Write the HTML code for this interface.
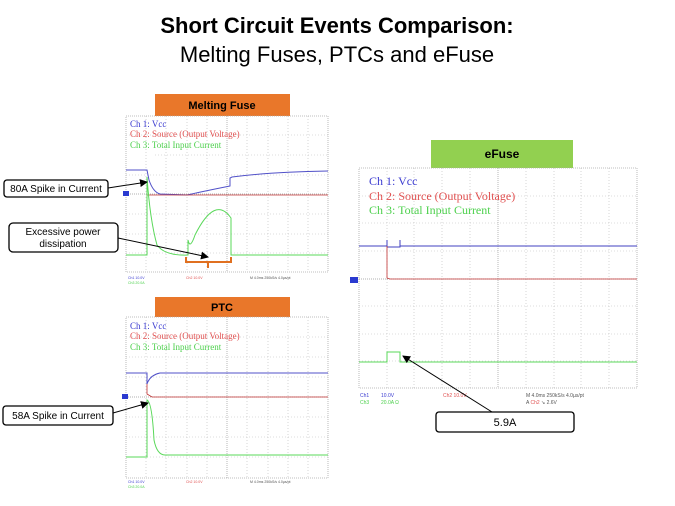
<!DOCTYPE html>
<html><head><meta charset="utf-8"><style>
html,body{margin:0;padding:0;background:#fff;width:675px;height:506px;overflow:hidden}
svg{display:block;font-family:"Liberation Sans",sans-serif}
</style></head><body>
<svg width="675" height="506" viewBox="0 0 675 506" xmlns="http://www.w3.org/2000/svg">
<defs>
<marker id="ah" markerWidth="8" markerHeight="8" refX="7" refY="4" orient="auto" markerUnits="userSpaceOnUse"><path d="M0,0 L8,4 L0,8 z" fill="#000"/></marker>
</defs>
<text x="337" y="33" text-anchor="middle" font-size="22" font-weight="bold">Short Circuit Events Comparison:</text>
<text x="337" y="62" text-anchor="middle" font-size="22">Melting Fuses, PTCs and eFuse</text>

<!-- Scope 1 -->
<g>
<rect x="155" y="94" width="135" height="22" fill="#e9772a"/>
<text x="222" y="109" text-anchor="middle" font-size="11" font-weight="bold">Melting Fuse</text>
<g stroke="#bbb" stroke-width="0.6" stroke-dasharray="1,2" fill="none">
<path d="M146 116V272M166 116V272M187 116V272M207 116V272M247 116V272M268 116V272M288 116V272M308 116V272"/>
<path d="M126 135H328M155 155H328M126 175H328M126 214H328M126 234H328M126 253H328"/>
</g>
<rect x="126" y="116" width="202" height="156" fill="none" stroke="#aaa" stroke-width="0.8" stroke-dasharray="1,1"/>
<path d="M227 116V272M126 194H328" stroke="#999" stroke-width="0.7" stroke-dasharray="1,1"/>
<text x="130" y="127" font-family="Liberation Serif" font-size="9" fill="#3a3ad0">Ch 1:  Vcc</text>
<text x="130" y="137" font-family="Liberation Serif" font-size="9" fill="#e05050">Ch 2:  Source (Output Voltage)</text>
<text x="130" y="148" font-family="Liberation Serif" font-size="9" fill="#4cd04c">Ch 3:  Total Input Current</text>
<path d="M126 170H147L149 180Q153 192 160 194L187 195Q200 192 230 186V178L232 177Q270 172 328 171" fill="none" stroke="#5050c8" stroke-width="1"/>
<path d="M147 195H328" stroke="#c03030" stroke-width="0.8"/>
<path d="M126 255H147V177Q150 220 157 245Q165 256 188 255V240Q190 250 195 235Q215 195 231 218V255H328" fill="none" stroke="#5ad85a" stroke-width="1"/>
<rect x="123" y="191" width="6" height="5" fill="#2a3ad0"/>
<path d="M186 257V262H231V257M208 262V268" fill="none" stroke="#e07020" stroke-width="2"/>
<text x="128" y="279" font-size="3.5" fill="#3a3ad0">Ch1   10.0V</text><text x="186" y="279" font-size="3.5" fill="#e05050">Ch2   10.0V</text><text x="250" y="279" font-size="3.5" fill="#555">M 4.0ms 250kS/s   4.0µs/pt</text>
<text x="128" y="284" font-size="3.5" fill="#4cd04c">Ch3   20.0A</text>
</g>

<!-- Callouts left -->
<rect x="4" y="180" width="104" height="17" rx="3" fill="#fff" stroke="#000" stroke-width="1.3"/>
<text x="56" y="192" text-anchor="middle" font-size="10">80A Spike in Current</text>
<line x1="108" y1="188" x2="147" y2="182" stroke="#000" marker-end="url(#ah)"/>
<rect x="9" y="223" width="109" height="29" rx="4" fill="#fff" stroke="#000" stroke-width="1.3"/>
<text x="63" y="235" text-anchor="middle" font-size="10">Excessive power</text>
<text x="63" y="247" text-anchor="middle" font-size="10">dissipation</text>
<line x1="118" y1="238" x2="208" y2="257" stroke="#000" marker-end="url(#ah)"/>

<!-- Scope 2 -->
<g>
<rect x="155" y="297" width="135" height="20" fill="#e9772a"/>
<text x="222" y="311" text-anchor="middle" font-size="11" font-weight="bold">PTC</text>
<g stroke="#bbb" stroke-width="0.6" stroke-dasharray="1,2" fill="none">
<path d="M146 317V478M166 317V478M187 317V478M207 317V478M247 317V478M268 317V478M288 317V478M308 317V478"/>
<path d="M126 337H328M126 357H328M126 377H328M126 417H328M126 437H328M126 457H328"/>
</g>
<rect x="126" y="317" width="202" height="161" fill="none" stroke="#aaa" stroke-width="0.8" stroke-dasharray="1,1"/>
<path d="M227 317V478M126 397H328" stroke="#999" stroke-width="0.7" stroke-dasharray="1,1"/>
<text x="130" y="329" font-family="Liberation Serif" font-size="9" fill="#3a3ad0">Ch 1:  Vcc</text>
<text x="130" y="339" font-family="Liberation Serif" font-size="9" fill="#e05050">Ch 2:  Source (Output Voltage)</text>
<text x="130" y="350" font-family="Liberation Serif" font-size="9" fill="#4cd04c">Ch 3:  Total Input Current</text>
<path d="M126 373H147V384Q150 375 160 373H328" fill="none" stroke="#5050c8" stroke-width="1"/>
<path d="M147 384V394L152 397H328" fill="none" stroke="#c03030" stroke-width="0.8"/>
<path d="M126 457H147V400Q152 402 154 440Q157 455 165 455H328" fill="none" stroke="#5ad85a" stroke-width="1"/>
<rect x="122" y="394" width="6" height="5" fill="#2a3ad0"/>
<text x="128" y="483" font-size="3.5" fill="#3a3ad0">Ch1   10.0V</text><text x="186" y="483" font-size="3.5" fill="#e05050">Ch2   10.0V</text><text x="250" y="483" font-size="3.5" fill="#555">M 4.0ms 250kS/s   4.0µs/pt</text>
<text x="128" y="488" font-size="3.5" fill="#4cd04c">Ch3   20.0A</text>
</g>
<rect x="3" y="406" width="110" height="19" rx="3" fill="#fff" stroke="#000" stroke-width="1.3"/>
<text x="58" y="419" text-anchor="middle" font-size="10">58A Spike in Current</text>
<line x1="113" y1="413" x2="148" y2="403" stroke="#000" marker-end="url(#ah)"/>

<!-- Scope 3 -->
<g>
<rect x="431" y="140" width="142" height="28" fill="#92d050"/>
<text x="502" y="158" text-anchor="middle" font-size="12" font-weight="bold">eFuse</text>
<g stroke="#bbb" stroke-width="0.6" stroke-dasharray="1,2" fill="none">
<path d="M387 168V388M414 168V388M442 168V388M470 168V388M526 168V388M554 168V388M581 168V388M609 168V388"/>
<path d="M359 196H637M359 223H637M359 251H637M359 306H637M359 334H637M359 361H637"/>
</g>
<rect x="359" y="168" width="278" height="220" fill="none" stroke="#aaa" stroke-width="0.8" stroke-dasharray="1,1"/>
<path d="M498 168V388M359 279H637" stroke="#999" stroke-width="0.7" stroke-dasharray="1,1"/>
<text x="369" y="185" font-family="Liberation Serif" font-size="12" fill="#3a3ad0">Ch 1:  Vcc</text>
<text x="369" y="200" font-family="Liberation Serif" font-size="12" fill="#e05050">Ch 2:  Source (Output Voltage)</text>
<text x="369" y="214" font-family="Liberation Serif" font-size="12" fill="#4cd04c">Ch 3:  Total Input Current</text>
<path d="M359 246H387V240M387 247H400V240M400 246H637" fill="none" stroke="#4040c0" stroke-width="1"/>
<path d="M387 246V278L390 279H637" fill="none" stroke="#c03030" stroke-width="0.8"/>
<path d="M359 362H387V352H400V362H637" fill="none" stroke="#5ad85a" stroke-width="1"/>
<rect x="350" y="277" width="8" height="6" fill="#2a3ad0"/>
<text x="360" y="397" font-size="5" fill="#3a3ad0">Ch1</text><text x="381" y="397" font-size="5" fill="#3a3ad0">10.0V</text>
<text x="443" y="397" font-size="5" fill="#e05050">Ch2     10.0V</text>
<text x="526" y="397" font-size="5" fill="#555">M 4.0ms 250kS/s      4.0µs/pt</text>
<text x="360" y="404" font-size="5" fill="#4cd04c">Ch3</text><text x="381" y="404" font-size="5" fill="#4cd04c">20.0A   Ω</text>
<text x="526" y="404" font-size="5" fill="#555">A  <tspan fill="#e05050">Ch2</tspan>  ↘  2.6V</text>
</g>
<rect x="436" y="412" width="138" height="20" rx="3" fill="#fff" stroke="#000" stroke-width="1.3"/>
<text x="505" y="426" text-anchor="middle" font-size="11">5.9A</text>
<line x1="492" y1="412" x2="403" y2="356" stroke="#000" marker-end="url(#ah)"/>
</svg>
</body></html>
